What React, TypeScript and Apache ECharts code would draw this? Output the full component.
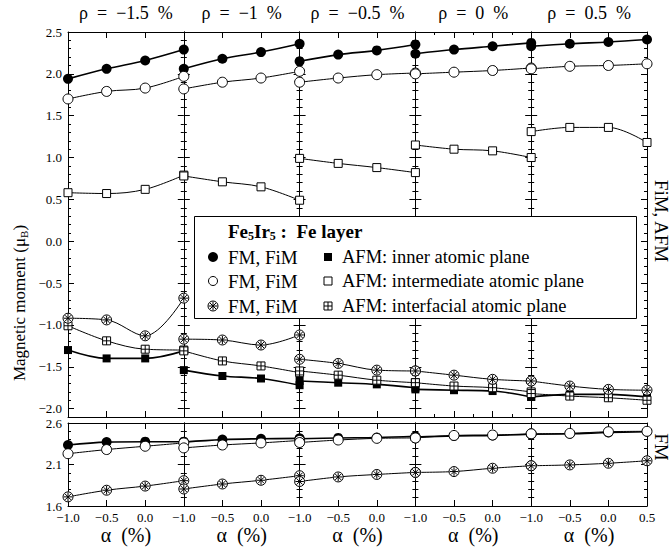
import React, { useEffect, useRef } from 'react';
import * as echarts from 'echarts';

// Panel headings (strain ρ) and the α values sampled in every panel
const RHO_LABELS = ['ρ\u2002=\u2002−1.5\u2002%', 'ρ\u2002=\u2002−1\u2002%', 'ρ\u2002=\u2002−0.5\u2002%', 'ρ\u2002=\u20020\u2002%', 'ρ\u2002=\u20020.5\u2002%'];
const ALPHA = [-1.0, -0.5, 0.0, 0.5];

// Upper frame (FiM, AFM): one row per ρ, one value per α
const fimInner = [
  [1.94, 2.06, 2.16, 2.29],
  [2.06, 2.18, 2.26, 2.36],
  [2.15, 2.23, 2.28, 2.35],
  [2.24, 2.29, 2.33, 2.37],
  [2.33, 2.36, 2.38, 2.41],
];
const fimInter = [
  [1.70, 1.79, 1.83, 1.97],
  [1.82, 1.90, 1.95, 2.03],
  [1.90, 1.95, 1.99, 2.01],
  [2.00, 2.02, 2.04, 2.07],
  [2.06, 2.09, 2.10, 2.12],
];
const fimIface = [
  [-0.92, -0.94, -1.13, -0.68],
  [-1.17, -1.18, -1.24, -1.12],
  [-1.41, -1.46, -1.54, -1.55],
  [-1.55, -1.60, -1.65, -1.67],
  [-1.67, -1.73, -1.77, -1.78],
];
const afmInner = [
  [-1.30, -1.40, -1.40, -1.31],
  [-1.54, -1.61, -1.64, -1.72],
  [-1.67, -1.69, -1.71, -1.75],
  [-1.77, -1.78, -1.79, -1.86],
  [-1.86, -1.83, -1.83, -1.86],
];
const afmInter = [
  [0.58, 0.57, 0.62, 0.79],
  [0.78, 0.71, 0.65, 0.49],
  [0.99, 0.93, 0.88, 0.82],
  [1.15, 1.10, 1.08, 1.00],
  [1.31, 1.36, 1.36, 1.18],
];
const afmIface = [
  [-1.01, -1.19, -1.29, -1.30],
  [-1.31, -1.43, -1.49, -1.57],
  [-1.55, -1.60, -1.66, -1.69],
  [-1.69, -1.73, -1.75, -1.80],
  [-1.82, -1.85, -1.87, -1.90],
];

// Lower frame (FM)
const fmInner = [
  [2.335, 2.37, 2.375, 2.375],
  [2.37, 2.40, 2.41, 2.415],
  [2.41, 2.42, 2.425, 2.44],
  [2.43, 2.445, 2.45, 2.465],
  [2.465, 2.47, 2.485, 2.495],
];
const fmInter = [
  [2.23, 2.28, 2.32, 2.36],
  [2.30, 2.335, 2.36, 2.39],
  [2.365, 2.395, 2.415, 2.42],
  [2.42, 2.45, 2.455, 2.47],
  [2.47, 2.475, 2.495, 2.50],
];
const fmIface = [
  [1.71, 1.79, 1.84, 1.905],
  [1.805, 1.865, 1.91, 1.965],
  [1.895, 1.95, 1.98, 2.005],
  [2.005, 2.015, 2.055, 2.085],
  [2.085, 2.095, 2.115, 2.145],
];

// Tick labels
const TOP_Y_TICKS = [-2.0, -1.5, -1.0, -0.5, 0.0, 0.5, 1.0, 1.5, 2.0, 2.5];
const BOTTOM_Y_TICKS = [1.6, 2.1, 2.6];

const FONT = 'Liberation Serif';
const fmt = (v: number) => v.toFixed(1).replace('-', '\u2212');

const AST_SYMBOL =
  'path://M0,10A10,10 0 1 1 20,10A10,10 0 1 1 0,10Z M10,1.5V18.5 M1.5,10H18.5 M4,4L16,16 M4,16L16,4';
const PLUS_SYMBOL = 'path://M0,0H20V20H0Z M10,0V20 M0,10H20';

const AST_SHAPE = 'M-5,0A5,5 0 1 1 5,0A5,5 0 1 1 -5,0Z M0,-4.2V4.2 M-4.2,0H4.2 M-3,-3L3,3 M-3,3L3,-3';
const PLUS_SHAPE = 'M-4,-4H4V4H-4Z M0,-4V4 M-4,0H4';

function minorTicks(min: number, max: number, majors: number[]) {
  const out: number[] = [];
  for (let k = Math.round(min * 10); k <= Math.round(max * 10); k++) {
    const v = k / 10;
    if (!majors.some((m) => Math.abs(m - v) < 1e-6)) out.push(v);
  }
  return out;
}

const LEFT = 68;
const RIGHT = 647;
const PW = (RIGHT - LEFT) / 5;

const FRAMES = [
  { top: 32, height: 385, min: -2.1, max: 2.5, majors: TOP_Y_TICKS },
  { top: 423, height: 83, min: 1.6, max: 2.6, majors: BOTTOM_Y_TICKS },
];

const STYLES: Record<string, any> = {
  fillC: { symbol: 'circle', symbolSize: 10, itemStyle: { color: '#000' }, lw: 1.6, z: 3 },
  openC: { symbol: 'circle', symbolSize: 10, itemStyle: { color: '#fff', borderColor: '#000', borderWidth: 1 }, lw: 1, z: 6 },
  astC: { symbol: AST_SYMBOL, symbolSize: 10, itemStyle: { color: '#fff', borderColor: '#000', borderWidth: 1 }, lw: 1, z: 5 },
  fillS: { symbol: 'rect', symbolSize: 8, itemStyle: { color: '#000' }, lw: 1.6, z: 3 },
  openS: { symbol: 'rect', symbolSize: 8, itemStyle: { color: '#fff', borderColor: '#000', borderWidth: 1 }, lw: 1, z: 4 },
  plusS: { symbol: PLUS_SYMBOL, symbolSize: 8, itemStyle: { color: '#fff', borderColor: '#000', borderWidth: 1 }, lw: 1, z: 4 },
};

function buildOption() {
  const grid: any[] = [];
  const xAxis: any[] = [];
  const yAxis: any[] = [];
  const series: any[] = [];
  const blk = { color: '#000', width: 1 };

  FRAMES.forEach((f, row) => {
    const minors = minorTicks(f.min, f.max, f.majors);
    for (let p = 0; p < 5; p++) {
      const g = row * 5 + p;
      grid.push({ left: LEFT + p * PW, top: f.top, width: PW, height: f.height });
      const baseX = {
        type: 'value', gridIndex: g, min: -1, max: 0.5, interval: 0.5,
        axisLine: { show: true, onZero: false, lineStyle: blk },
        axisTick: { show: true, inside: true, length: 6, lineStyle: blk },
        minorTick: row === 0 && p === 3 ? { show: true, splitNumber: 2, length: 3, lineStyle: blk } : { show: false },
        splitLine: { show: false },
      };
      xAxis.push({
        ...baseX, position: 'bottom',
        axisLabel: {
          show: row === 1, formatter: fmt, fontFamily: FONT, fontSize: 13, color: '#000', margin: 5,
          showMaxLabel: p === 4, showMinLabel: true,
        },
      });
      xAxis.push({ ...baseX, position: 'top', axisLabel: { show: false } });

      const baseY = {
        type: 'value', gridIndex: g, min: f.min, max: f.max,
        axisLine: { show: true, onZero: false, lineStyle: blk },
        splitLine: { show: false },
      };
      const major = { show: true, inside: true, length: 6, customValues: f.majors, lineStyle: blk };
      const minor = { show: true, inside: true, length: 3, customValues: minors, lineStyle: blk };
      const hiddenLine = { show: false, onZero: false };
      yAxis.push({
        ...baseY, position: 'left', axisTick: major,
        axisLabel: {
          show: p === 0, customValues: f.majors, formatter: fmt, fontFamily: FONT, fontSize: 13,
          color: '#000', margin: 6,
        },
      });
      yAxis.push({ ...baseY, position: 'left', axisLine: hiddenLine, axisTick: minor, axisLabel: { show: false } });
      yAxis.push({ ...baseY, position: 'right', axisTick: major, axisLabel: { show: false } });
      yAxis.push({ ...baseY, position: 'right', axisLine: hiddenLine, axisTick: minor, axisLabel: { show: false } });
    }
  });

  const add = (g: number, vals: number[], key: string) => {
    const s = STYLES[key];
    series.push({
      type: 'line', xAxisIndex: 2 * g, yAxisIndex: 4 * g,
      data: ALPHA.map((a, i) => [a, vals[i]]),
      symbol: s.symbol, symbolSize: s.symbolSize, showSymbol: true,
      smooth: 0.35, z: s.z,
      lineStyle: { color: '#000', width: s.lw },
      itemStyle: s.itemStyle,
      emphasis: { disabled: true },
    });
  };

  for (let p = 0; p < 5; p++) {
    add(p, fimInner[p], 'fillC');
    add(p, afmInner[p], 'fillS');
    add(p, afmInter[p], 'openS');
    add(p, afmIface[p], 'plusS');
    add(p, fimIface[p], 'astC');
    add(p, fimInter[p], 'openC');
    add(5 + p, fmInner[p], 'fillC');
    add(5 + p, fmIface[p], 'astC');
    add(5 + p, fmInter[p], 'openC');
  }

  const text = (x: number, y: number, t: string, size: number, extra: any = {}, rot = 0) => ({
    type: 'text', x, y, rotation: rot, z: 100,
    style: {
      text: t, fill: '#000', fontFamily: FONT, fontSize: size,
      textAlign: 'center', textVerticalAlign: 'middle', align: 'center', verticalAlign: 'middle',
      ...extra,
    },
  });

  const graphic: any[] = [];
  RHO_LABELS.forEach((t, p) => graphic.push(text(LEFT + (p + 0.5) * PW, 13, t, 18)));
  for (let p = 0; p < 5; p++) graphic.push(text(LEFT + (p + 0.5) * PW, 535, 'α\u2002(%)', 20));

  graphic.push(
    text(19, 303, '{m|Magnetic moment (μ}{s|B}{m|)}', 17, {
      rich: {
        m: { fontFamily: FONT, fontSize: 17, lineHeight: 20 },
        s: { fontFamily: FONT, fontSize: 11, lineHeight: 11, padding: [9, 0, 0, 0] },
      },
    }, Math.PI / 2)
  );
  graphic.push(text(661, 221, 'FiM, AFM', 19, {}, -Math.PI / 2));
  graphic.push(text(661, 447, 'FM', 19, {}, -Math.PI / 2));

  // Legend box
  graphic.push({
    type: 'rect', z: 90, shape: { x: 194.5, y: 216.5, width: 442, height: 102 },
    style: { fill: '#fff', stroke: '#000', lineWidth: 1 },
  });
  graphic.push(
    text(228, 231, '{b|Fe}{s|5}{b|Ir}{s|5}{b| :  Fe layer}', 19, {
      textAlign: 'left', align: 'left',
      rich: {
        b: { fontFamily: FONT, fontSize: 19, fontWeight: 'bold', lineHeight: 22 },
        s: { fontFamily: FONT, fontSize: 12, fontWeight: 'bold', lineHeight: 12, padding: [10, 0, 0, 0] },
      },
    })
  );
  const rows = [257, 281, 306];
  const leftText = ['FM, FiM', 'FM, FiM', 'FM, FiM'];
  const rightText = ['AFM: inner atomic plane', 'AFM: intermediate atomic plane', 'AFM: interfacial atomic plane'];
  rows.forEach((y, i) => {
    graphic.push(text(228, y, leftText[i], 19, { textAlign: 'left', align: 'left' }));
    graphic.push(text(342, y, rightText[i], 18.5, { textAlign: 'left', align: 'left' }));
  });
  const mk = { z: 100 };
  graphic.push({ type: 'circle', ...mk, x: 213, y: rows[0], shape: { cx: 0, cy: 0, r: 5 }, style: { fill: '#000' } });
  graphic.push({ type: 'circle', ...mk, x: 213, y: rows[1], shape: { cx: 0, cy: 0, r: 4.5 }, style: { fill: '#fff', stroke: '#000', lineWidth: 1 } });
  graphic.push({ type: 'astcircle', ...mk, x: 213, y: rows[2], style: { fill: '#fff', stroke: '#000', lineWidth: 1 } });
  graphic.push({ type: 'rect', ...mk, x: 328, y: rows[0], shape: { x: -4, y: -4, width: 8, height: 8 }, style: { fill: '#000' } });
  graphic.push({ type: 'rect', ...mk, x: 328, y: rows[1], shape: { x: -4, y: -4, width: 8, height: 8 }, style: { fill: '#fff', stroke: '#000', lineWidth: 1 } });
  graphic.push({ type: 'boxplus', ...mk, x: 328, y: rows[2], style: { fill: '#fff', stroke: '#000', lineWidth: 1 } });

  return {
    animation: false,
    backgroundColor: '#fff',
    textStyle: { fontFamily: FONT },
    grid, xAxis, yAxis, series, graphic,
  };
}

export default function App() {
  const ref = useRef<HTMLDivElement>(null);
  useEffect(() => {
    if (!ref.current) return;
    echarts.graphic.registerShape('astcircle', echarts.graphic.extendPath(AST_SHAPE, {}));
    echarts.graphic.registerShape('boxplus', echarts.graphic.extendPath(PLUS_SHAPE, {}));
    const chart = echarts.init(ref.current, undefined, { renderer: 'svg' });
    chart.setOption(buildOption() as any);
    return () => chart.dispose();
  }, []);
  return (
    <div
      ref={ref}
      style={{ position: 'fixed', left: 0, top: 0, width: 671, height: 550, background: '#fff' }}
    />
  );
}
